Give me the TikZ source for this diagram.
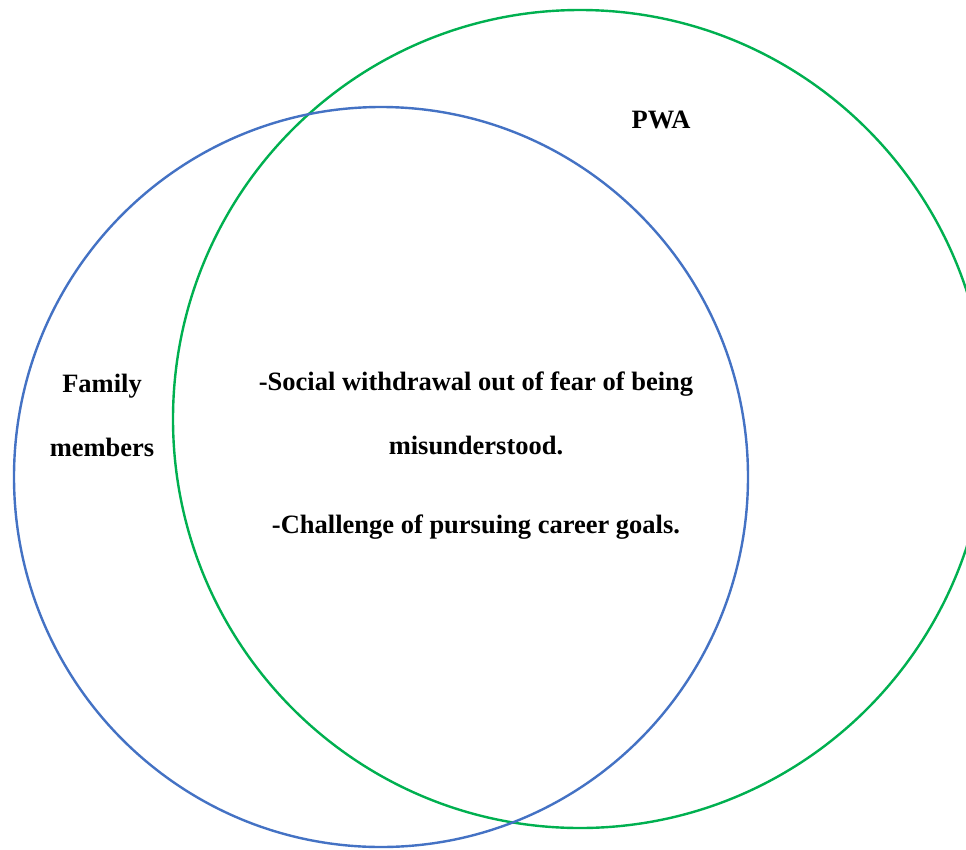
\documentclass[tikz,border=0pt]{standalone}
\usepackage{fontspec}
\setmainfont{Liberation Serif}
\definecolor{setblue}{HTML}{4472C4}
\definecolor{setgreen}{HTML}{00B050}
\begin{document}
\begin{tikzpicture}[x=1pt, y=-1pt,
  ring/.style={line width=2.4pt},
  lbl/.style={font=\bfseries\fontsize{26.5}{30}\selectfont, inner sep=0pt, anchor=center}]
  \useasboundingbox (0,0) rectangle (966,849);
  \fill[white] (0,0) rectangle (966,849);
  \clip (0,0) rectangle (966,849);
  % the two sets
  \draw[ring, setgreen] (580,419) ellipse [x radius=407pt, y radius=409pt];
  \draw[ring, setblue] (381,477) ellipse [x radius=367pt, y radius=370pt];
  % set names
  \node[lbl] (pwa) at (661,120) {PWA};
  \node[lbl] (fam1) at (102,386) {Family};
  \node[lbl] (fam2) at (102,447) {members};
  % shared themes
  \node[lbl] (t1) at (476,384) {-Social withdrawal out of fear of being};
  \node[lbl] (t2) at (476,445) {misunderstood.};
  \node[lbl] (t3) at (476,527) {-Challenge of pursuing career goals.};
\end{tikzpicture}
\end{document}
